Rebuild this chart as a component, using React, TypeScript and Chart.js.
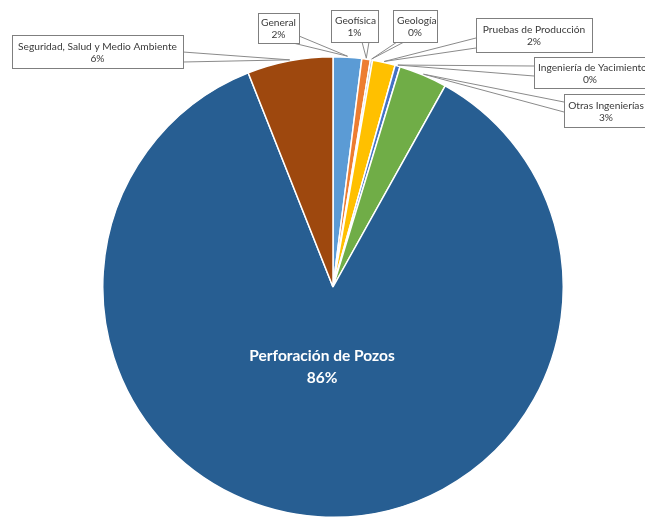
import React, { useEffect, useRef } from "react";
import { Chart, registerables } from "chart.js";

Chart.register(...registerables);

const categories = [
  "General",
  "Geofísica",
  "Geología",
  "Pruebas de Producción",
  "Ingeniería de Yacimientos",
  "Otras Ingenierías",
  "Perforación de Pozos",
  "Seguridad, Salud y Medio Ambiente",
];
const shares = [2.0, 0.6, 0.15, 1.6, 0.35, 3.4, 85.9, 6.0];
const sliceColors = [
  "#5B9BD5",
  "#ED7D31",
  "#A5A5A5",
  "#FFC000",
  "#4472C4",
  "#70AD47",
  "#275E92",
  "#9E480E",
];

// Callout boxes: [left, top, width, height] and the two points where the pointer leaves the box
type Callout = { box: number[]; base: number[] } | null;
const callouts: Callout[] = [
  { box: [258, 13, 41, 30], base: [293, 43, 299, 36] },
  { box: [331, 10, 47, 32], base: [362, 42, 369, 42] },
  { box: [393, 10, 44, 32], base: [397, 42, 404, 42] },
  { box: [476, 18, 116, 34], base: [476, 38, 476, 48] },
  { box: [534, 57, 112, 31], base: [534, 66, 534, 76] },
  { box: [564, 94, 84, 33], base: [564, 102, 564, 112] },
  null,
  { box: [12, 35, 171, 33], base: [183, 52, 183, 62] },
];

const pctText = (v: number, total: number) => `${Math.round((v / total) * 100)}%`;

const calloutPlugin = {
  id: "calloutLabels",
  afterDatasetsDraw(chart: any) {
    const ctx = chart.ctx as CanvasRenderingContext2D;
    const meta = chart.getDatasetMeta(0);
    const values = chart.data.datasets[0].data as number[];
    const total = values.reduce((a, b) => a + b, 0);
    ctx.save();
    meta.data.forEach((arc: any, i: number) => {
      const p = arc.getProps(["x", "y", "startAngle", "endAngle", "outerRadius"], true);
      const mid = (p.startAngle + p.endAngle) / 2;
      const label = chart.data.labels[i] as string;
      const pct = pctText(values[i], total);
      const c = callouts[i];
      if (!c) {
        // label inside the large slice
        ctx.fillStyle = "#ffffff";
        ctx.font = "bold 15.5px Lato, 'Open Sans', sans-serif";
        ctx.textAlign = "center";
        ctx.textBaseline = "middle";
        ctx.fillText(label, p.x - 11, p.y + 69);
        ctx.fillText(pct, p.x - 11, p.y + 91);
        return;
      }
      const tipR = p.outerRadius + 1;
      const tx = p.x + Math.cos(mid) * tipR;
      const ty = p.y + Math.sin(mid) * tipR;
      const [bx1, by1, bx2, by2] = c.base;
      ctx.beginPath();
      ctx.moveTo(bx1, by1);
      ctx.lineTo(tx, ty);
      ctx.lineTo(bx2, by2);
      ctx.fillStyle = "#ffffff";
      ctx.fill();
      ctx.strokeStyle = "#8a8a8a";
      ctx.lineWidth = 1;
      ctx.stroke();

      const [x, y, w, h] = c.box;
      ctx.fillStyle = "#ffffff";
      ctx.fillRect(x, y, w, h);
      ctx.strokeStyle = "#7f7f7f";
      ctx.strokeRect(x + 0.5, y + 0.5, w, h);

      ctx.fillStyle = "#3a3a3a";
      ctx.font = "10.2px Lato, 'Open Sans', sans-serif";
      ctx.textBaseline = "middle";
      const cx = x + w / 2;
      // labels wider than their box start at the left inset and run past the right edge
      if (ctx.measureText(label).width > w - 6) {
        ctx.textAlign = "left";
        ctx.fillText(label, x + 4, y + h / 2 - 5);
      } else {
        ctx.textAlign = "center";
        ctx.fillText(label, cx, y + h / 2 - 5);
      }
      ctx.textAlign = "center";
      ctx.fillText(pct, cx, y + h / 2 + 7);
    });
    ctx.restore();
  },
};

export default function App() {
  const canvasRef = useRef<HTMLCanvasElement | null>(null);

  useEffect(() => {
    if (!canvasRef.current) return;
    const chart = new Chart(canvasRef.current, {
      type: "pie",
      data: {
        labels: categories,
        datasets: [
          {
            data: shares,
            backgroundColor: sliceColors,
            borderColor: "#ffffff",
            borderWidth: 1.5,
            hoverOffset: 0,
          },
        ],
      },
      options: {
        responsive: false,
        animation: false,
        layout: { padding: { left: 102, right: 81, top: 56, bottom: 1 } },
        plugins: {
          legend: { display: false },
          tooltip: { enabled: false },
          title: { display: false },
        },
      },
      plugins: [calloutPlugin],
    });
    return () => chart.destroy();
  }, []);

  return (
    <div style={{ position: "fixed", left: 0, top: 0, width: 645, height: 519, background: "#ffffff" }}>
      <canvas ref={canvasRef} width={645} height={519} style={{ display: "block" }} />
    </div>
  );
}
